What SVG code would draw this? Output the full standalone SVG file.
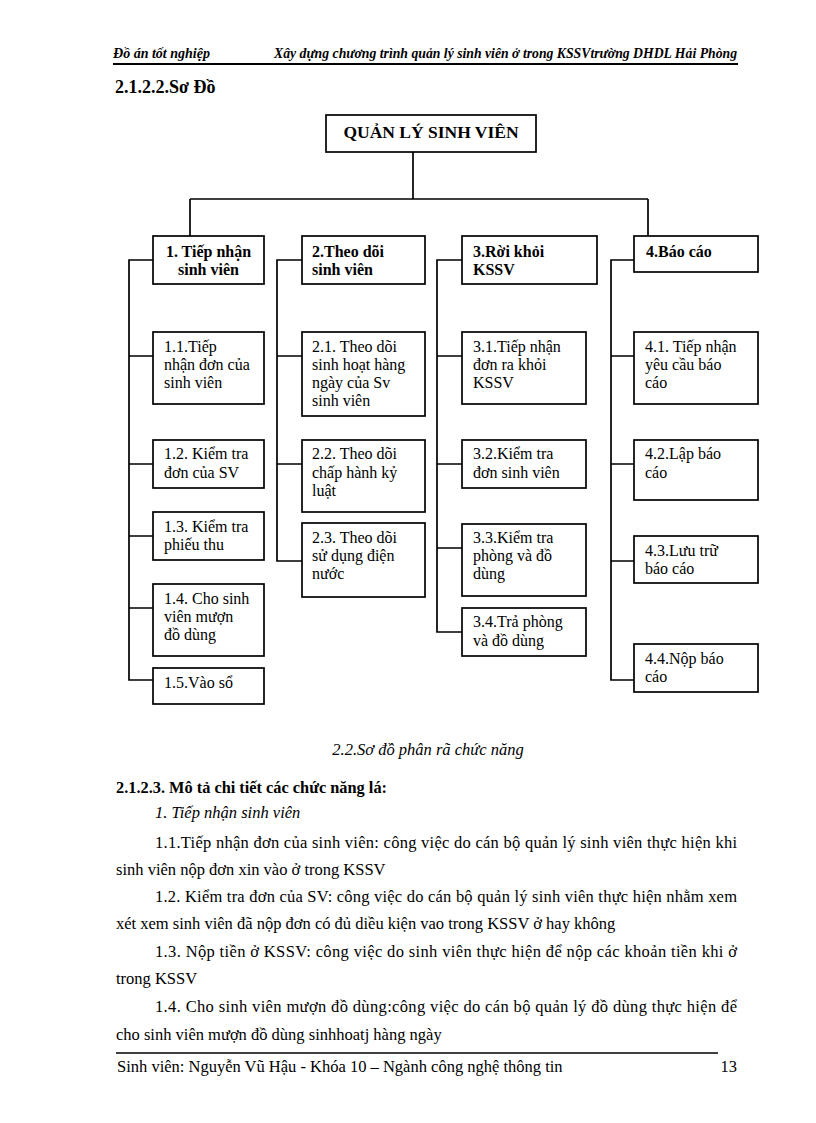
<svg xmlns="http://www.w3.org/2000/svg" width="816" height="1123" viewBox="0 0 816 1123">
<style>
.bg{fill:#fff}
.box{fill:#fff;stroke:#000;stroke-width:1.7}
.ln{fill:none;stroke:#000;stroke-width:1.7}
.t{font-family:"Liberation Serif","Times New Roman",serif;font-size:16px;fill:#000}
.b{font-weight:bold}
.i{font-style:italic}
.body{font-family:"Liberation Serif","Times New Roman",serif;font-size:16.5px;fill:#000}
.hdr{font-size:14px}
.h1{font-size:18px}
.root{font-size:17.5px}
.h2{font-size:17px}
</style>
<rect class="bg" x="0" y="0" width="816" height="1123"/>

<!-- page header -->
<g id="page-header">
<text class="t b i hdr" x="113" y="58" textLength="97" lengthAdjust="spacingAndGlyphs">Đồ án tốt nghiệp</text>
<text class="t b i hdr" x="274" y="58" textLength="463" lengthAdjust="spacingAndGlyphs">Xây dựng chương trình quản lý sinh viên ở trong KSSVtrường DHDL Hải Phòng</text>
<line x1="113" y1="64" x2="738" y2="64" stroke="#000" stroke-width="2"/>
<text class="t b h1" x="115" y="93">2.1.2.2.Sơ Đồ</text>
</g>

<!-- connectors -->
<g id="connectors">
<path class="ln" d="M413 152 V199 M190 199 H648 M190 199 V236 M648 199 V236"/>
<path class="ln" d="M153 260 H129 V680 H153 M129 356 H153 M129 464 H153 M129 536 H153 M129 608 H153"/>
<path class="ln" d="M302 260 H277 V561 H302 M277 356 H302 M277 464 H302"/>
<path class="ln" d="M462 260 H437 V632 H462 M437 356 H462 M437 464 H462 M437 548 H462"/>
<path class="ln" d="M634 260 H611 V680 H634 M611 356 H634 M611 464 H634 M611 561 H634"/>
</g>

<!-- root -->
<g id="n-root">
<rect class="box" x="326" y="115" width="210" height="37"/>
<text class="t b root" x="431" y="138" text-anchor="middle">QUẢN LÝ SINH VIÊN</text>
</g>

<!-- level 1 -->
<g id="n-1">
<rect class="box" x="153" y="236" width="111" height="48"/>
<text class="t b" text-anchor="middle"><tspan x="208.5" y="257">1. Tiếp nhận</tspan><tspan x="208.5" y="275">sinh viên</tspan></text>
</g>
<g id="n-2">
<rect class="box" x="302" y="236" width="123" height="48"/>
<text class="t b"><tspan x="312" y="257">2.Theo dõi</tspan><tspan x="312" y="275">sinh viên</tspan></text>
</g>
<g id="n-3">
<rect class="box" x="462" y="236" width="135" height="48"/>
<text class="t b"><tspan x="473" y="257">3.Rời khỏi</tspan><tspan x="473" y="275">KSSV</tspan></text>
</g>
<g id="n-4">
<rect class="box" x="634" y="236" width="124" height="36"/>
<text class="t b"><tspan x="646" y="257">4.Báo cáo</tspan></text>
</g>

<!-- column 1 -->
<g id="n-1-1">
<rect class="box" x="153" y="332" width="111" height="72"/>
<text class="t"><tspan x="164" y="352">1.1.Tiếp</tspan><tspan x="164" y="370">nhận đơn của</tspan><tspan x="164" y="388">sinh viên</tspan></text>
</g>
<g id="n-1-2">
<rect class="box" x="153" y="440" width="111" height="48"/>
<text class="t"><tspan x="164" y="459">1.2. Kiểm tra</tspan><tspan x="164" y="478">đơn của SV</tspan></text>
</g>
<g id="n-1-3">
<rect class="box" x="153" y="512" width="111" height="48"/>
<text class="t"><tspan x="164" y="532">1.3. Kiểm tra</tspan><tspan x="164" y="550">phiếu thu</tspan></text>
</g>
<g id="n-1-4">
<rect class="box" x="153" y="584" width="111" height="72"/>
<text class="t"><tspan x="164" y="604">1.4. Cho sinh</tspan><tspan x="164" y="622">viên mượn</tspan><tspan x="164" y="640">đồ dùng</tspan></text>
</g>
<g id="n-1-5">
<rect class="box" x="153" y="668" width="111" height="36"/>
<text class="t"><tspan x="164" y="688">1.5.Vào sổ</tspan></text>
</g>

<!-- column 2 -->
<g id="n-2-1">
<rect class="box" x="302" y="332" width="123" height="84"/>
<text class="t"><tspan x="312" y="352">2.1. Theo dõi</tspan><tspan x="312" y="370">sinh hoạt hàng</tspan><tspan x="312" y="388">ngày của Sv</tspan><tspan x="312" y="406">sinh viên</tspan></text>
</g>
<g id="n-2-2">
<rect class="box" x="302" y="440" width="123" height="72"/>
<text class="t"><tspan x="312" y="459">2.2. Theo dõi</tspan><tspan x="312" y="478">chấp hành kỷ</tspan><tspan x="312" y="496">luật</tspan></text>
</g>
<g id="n-2-3">
<rect class="box" x="302" y="523" width="123" height="74"/>
<text class="t"><tspan x="312" y="543">2.3. Theo dõi</tspan><tspan x="312" y="561">sử dụng điện</tspan><tspan x="312" y="579">nước</tspan></text>
</g>

<!-- column 3 -->
<g id="n-3-1">
<rect class="box" x="462" y="332" width="124" height="72"/>
<text class="t"><tspan x="473" y="352">3.1.Tiếp nhận</tspan><tspan x="473" y="370">đơn ra khỏi</tspan><tspan x="473" y="388">KSSV</tspan></text>
</g>
<g id="n-3-2">
<rect class="box" x="462" y="440" width="124" height="48"/>
<text class="t"><tspan x="473" y="459">3.2.Kiểm tra</tspan><tspan x="473" y="478">đơn sinh viên</tspan></text>
</g>
<g id="n-3-3">
<rect class="box" x="462" y="524" width="124" height="72"/>
<text class="t"><tspan x="473" y="543">3.3.Kiểm tra</tspan><tspan x="473" y="561">phòng và đồ</tspan><tspan x="473" y="579">dùng</tspan></text>
</g>
<g id="n-3-4">
<rect class="box" x="462" y="608" width="124" height="48"/>
<text class="t"><tspan x="473" y="627">3.4.Trả phòng</tspan><tspan x="473" y="646">và đồ dùng</tspan></text>
</g>

<!-- column 4 -->
<g id="n-4-1">
<rect class="box" x="634" y="332" width="124" height="72"/>
<text class="t"><tspan x="645" y="352">4.1. Tiếp nhận</tspan><tspan x="645" y="370">yêu cầu báo</tspan><tspan x="645" y="388">cáo</tspan></text>
</g>
<g id="n-4-2">
<rect class="box" x="634" y="440" width="124" height="60"/>
<text class="t"><tspan x="645" y="459">4.2.Lập báo</tspan><tspan x="645" y="478">cáo</tspan></text>
</g>
<g id="n-4-3">
<rect class="box" x="634" y="536" width="124" height="47"/>
<text class="t"><tspan x="645" y="556">4.3.Lưu trữ</tspan><tspan x="645" y="574">báo cáo</tspan></text>
</g>
<g id="n-4-4">
<rect class="box" x="634" y="644" width="124" height="48"/>
<text class="t"><tspan x="645" y="664">4.4.Nộp báo</tspan><tspan x="645" y="682">cáo</tspan></text>
</g>

<!-- caption and body text -->
<g id="body-text">
<text class="body i" x="428" y="755" text-anchor="middle">2.2.Sơ đồ phân rã chức năng</text>
<text class="body b h2" x="116" y="793" textLength="271" lengthAdjust="spacingAndGlyphs">2.1.2.3. Mô tả chi tiết các chức năng lá:</text>
<text class="body i" x="155" y="818">1. Tiếp nhận sinh viên</text>
<text class="body" x="155" y="848" textLength="582" lengthAdjust="spacing">1.1.Tiếp nhận đơn của sinh viên: công việc do cán bộ quản lý sinh viên thực hiện khi</text>
<text class="body" x="116" y="875">sinh viên nộp đơn xin vào ở trong KSSV</text>
<text class="body" x="155" y="902" textLength="582" lengthAdjust="spacing">1.2. Kiểm tra đơn của SV: công việc do cán bộ quản lý sinh viên thực hiện nhằm xem</text>
<text class="body" x="116" y="929">xét xem sinh viên đã nộp đơn có đủ diều kiện vao trong KSSV ở hay không</text>
<text class="body" x="155" y="957" textLength="582" lengthAdjust="spacing">1.3. Nộp tiền ở KSSV: công việc do sinh viên thực hiện để nộp các khoản tiền khi ở</text>
<text class="body" x="116" y="984">trong KSSV</text>
<text class="body" x="155" y="1012" textLength="582" lengthAdjust="spacing">1.4. Cho sinh viên mượn đồ dùng:công việc do cán bộ quản lý đồ dùng thực hiện để</text>
<text class="body" x="116" y="1040">cho sinh viên mượn đồ dùng sinhhoatj hàng ngày</text>
</g>

<!-- footer -->
<g id="page-footer">
<line x1="116" y1="1053" x2="718" y2="1053" stroke="#000" stroke-width="1.5"/>
<text class="body" x="117" y="1072">Sinh viên: Nguyễn Vũ Hậu - Khóa 10 – Ngành công nghệ thông tin</text>
<text class="body" x="737" y="1072" text-anchor="end">13</text>
</g>
</svg>
